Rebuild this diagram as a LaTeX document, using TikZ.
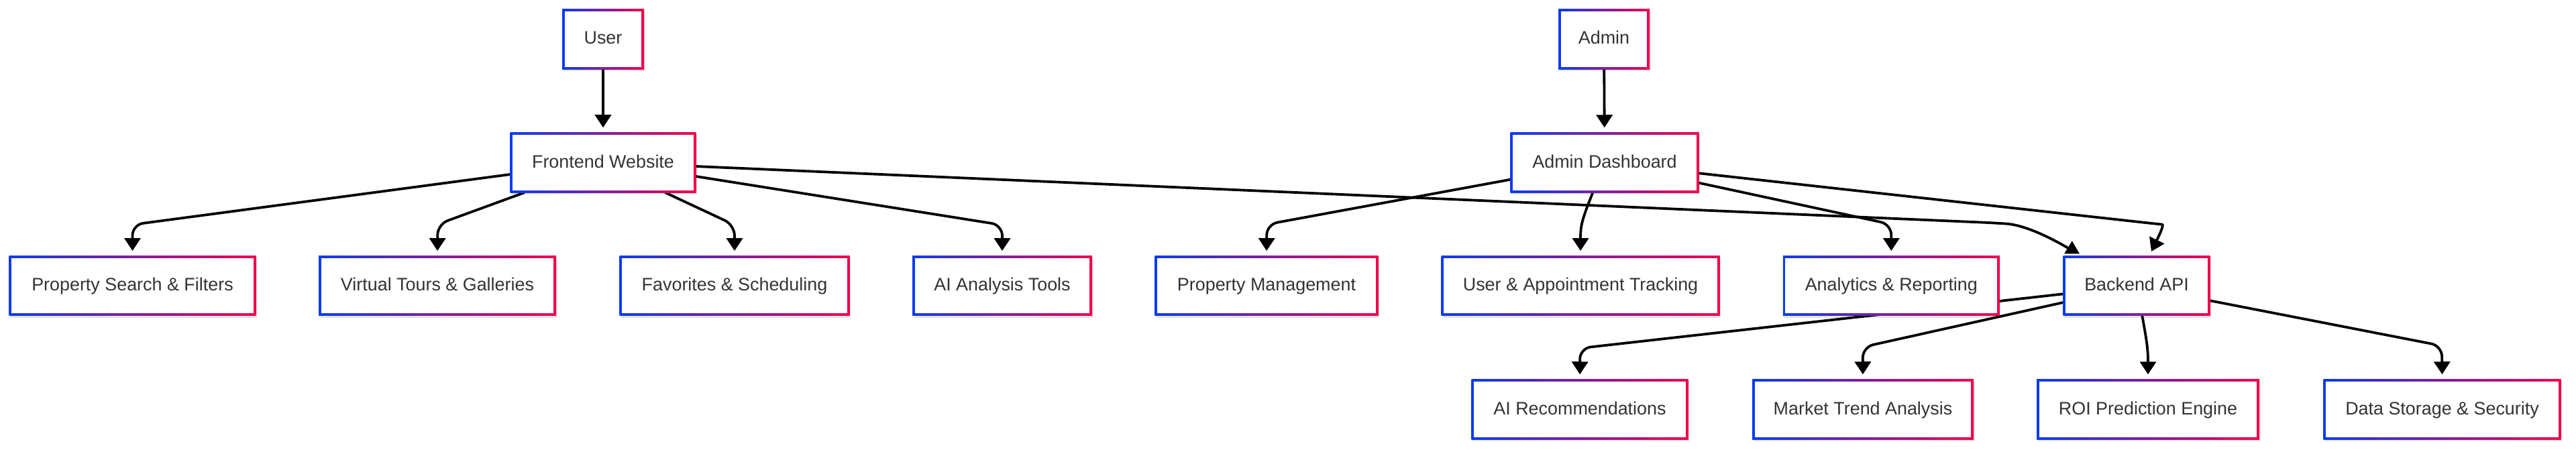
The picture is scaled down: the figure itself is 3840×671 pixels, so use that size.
\documentclass[tikz,border=0pt]{standalone}
\usepackage{fontspec}
\setmainfont{Liberation Sans}
\usetikzlibrary{arrows.meta,shadows}
\definecolor{gL}{HTML}{0B3BEF}
\definecolor{gR}{HTML}{F2024B}
\definecolor{txt}{HTML}{333333}
\pgfdeclarelayer{bg}
\pgfsetlayers{bg,main}
\tikzset{
  gbox/.style={rectangle, minimum height=89.3pt, inner sep=0pt, outer sep=0pt,
    text height=21pt, text depth=6pt,
    left color=gL, right color=gR,
    drop shadow={shadow xshift=1.5pt, shadow yshift=-3pt, opacity=0.10, fill=black},
    path picture={\fill[white] ([xshift=3.6pt,yshift=-3.6pt]path picture bounding box.north west)
      rectangle ([xshift=-3.6pt,yshift=3.6pt]path picture bounding box.south east);},
    text=txt, font=\fontsize{26.9pt}{32pt}\selectfont},
  link/.style={line width=3.8pt, draw=black, rounded corners=16pt,
    -{Triangle[length=19pt,width=24pt]}, shorten >=7.6pt},
  plainlink/.style={line width=3.8pt, draw=black, rounded corners=16pt}
}
\begin{document}
\begin{tikzpicture}[x=1pt,y=-1pt]
\useasboundingbox (0,0) rectangle (3840,671);
% row 0
\node[gbox, minimum width=122pt] (user) at (899,58.5) {User};
\node[gbox, minimum width=136pt] (admin) at (2391,58.5) {Admin};
% row 1
\node[gbox, minimum width=277pt] (fw) at (899,242.5) {Frontend Website};
\node[gbox, minimum width=281pt] (ad) at (2392,242.5) {Admin Dashboard};
% row 2
\node[gbox, minimum width=368pt] (ps) at (197.5,426.3) {Property Search \& Filters};
\node[gbox, minimum width=354pt] (vt) at (652,426.3) {Virtual Tours \& Galleries};
\node[gbox, minimum width=343pt] (fav) at (1095,426.3) {Favorites \& Scheduling};
\node[gbox, minimum width=268pt] (ait) at (1494,426.3) {AI Analysis Tools};
\node[gbox, minimum width=333pt] (pm) at (1888,426.3) {Property Management};
\node[gbox, minimum width=415pt] (uat) at (2356,426.3) {User \& Appointment Tracking};
\node[gbox, minimum width=323pt] (ar) at (2819.3,426.3) {Analytics \& Reporting};
\node[gbox, minimum width=219pt] (be) at (3185,426.3) {Backend API};
% row 3
\node[gbox, minimum width=323pt] (air) at (2355,610.5) {AI Recommendations};
\node[gbox, minimum width=330pt] (mta) at (2777,610.5) {Market Trend Analysis};
\node[gbox, minimum width=332pt] (roi) at (3202,610.5) {ROI Prediction Engine};
\node[gbox, minimum width=354pt] (ds) at (3640.5,610.5) {Data Storage \& Security};

\begin{pgfonlayer}{bg}
\fill[white] (0,0) rectangle (3840,671);
% User / Admin
\draw[link] (user) -- (fw);
\draw[link] (admin) -- (ad);
% Frontend
\draw[link] ([yshift=-17.5pt]fw.west) -- (197.5,335) -- (ps.north);
\draw[link] ([xshift=-117.3pt]fw.south) -- (652.3,334.5) -- (vt.north);
\draw[link] ([xshift=92.7pt]fw.south) -- (1095,335.5) -- (fav.north);
\draw[link] ([yshift=-20.5pt]fw.east) -- (1494,335.5) -- (ait.north);
\draw[plainlink] ([yshift=-5.5pt]fw.east) -- (2975,332.5)
   .. controls (3010,335) and (3040,345) .. ([xshift=7pt,yshift=12pt]be.north west);
\fill ([xshift=1.6pt,yshift=3.4pt]be.north west) -- ([xshift=24.3pt,yshift=3.4pt]be.north west)
   -- ([xshift=13.3pt,yshift=22.4pt]be.north west) -- cycle;
% Admin dashboard
\draw[link] ([yshift=-25.2pt]ad.west) -- (1888.3,334.6) -- (pm.north);
\draw[link] ([xshift=-17.7pt]ad.south) .. controls (2358,328) and (2356,336) .. (uat.north);
\draw[link] ([yshift=-30.2pt]ad.east) -- (2819.3,334.5) -- (ar.north);
\draw[link, shorten >=0pt] ([yshift=-15.8pt]ad.east) -- (3207,333)
   .. controls (3226,335) and (3220,348) .. ([xshift=22pt,yshift=6.7pt]be.north);
% Backend
\draw[link] ([yshift=-12pt]be.west) -- (2355.3,519.2) -- (air.north);
\draw[link] ([yshift=-24.7pt]be.west) -- (2776.7,517.5) -- (mta.north);
\draw[link] ([xshift=8.3pt]be.south) .. controls (3200,508) and (3202,520) .. (roi.north);
\draw[link] ([yshift=-22pt]be.east) -- (3640,515.6) -- (ds.north);
\end{pgfonlayer}
\end{tikzpicture}
\end{document}
